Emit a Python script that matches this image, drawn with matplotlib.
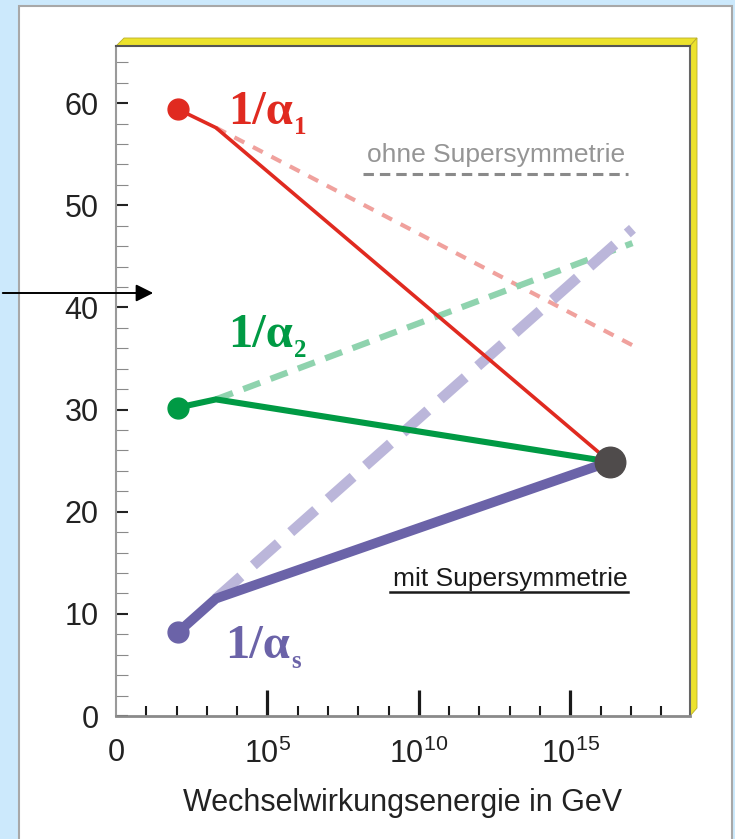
import matplotlib
matplotlib.use("Agg")
import matplotlib.pyplot as plt
from matplotlib.patches import Rectangle, Polygon, FancyArrowPatch
from matplotlib.ticker import MultipleLocator

# --- data: inverse couplings vs log10(energy / GeV) ---
energy_susy = [2.05, 3.3, 16.3]
inv_alpha1_susy = [59.4, 57.6, 24.9]
inv_alpha2_susy = [30.2, 31.0, 24.9]
inv_alphas_susy = [8.2, 11.5, 24.9]

energy_sm = [3.3, 17.05]
inv_alpha1_sm = [57.6, 36.3]
inv_alpha2_sm = [31.0, 46.3]
inv_alphas_sm = [11.5, 47.7]

x_ticks = [0, 5, 10, 15]
x_tick_labels = ["0", r"$10^{5}$", r"$10^{10}$", r"$10^{15}$"]
y_ticks = [0, 10, 20, 30, 40, 50, 60]

plt.rcParams["font.family"] = ["Liberation Sans", "DejaVu Sans"]
plt.rcParams["mathtext.fontset"] = "custom"
plt.rcParams["mathtext.rm"] = "Liberation Sans"
plt.rcParams["mathtext.it"] = "Liberation Sans"
plt.rcParams["lines.scale_dashes"] = False

W, H = 735, 839


def fx(px):
    return px / W


def fy(py):
    return (H - py) / H


fig = plt.figure(figsize=(7.35, 8.39), dpi=100)
fig.patch.set_facecolor("#cce9fc")

# white panel
panel = Rectangle((fx(19), -0.02), fx(732) - fx(19), fy(6) + 0.02,
                  transform=fig.transFigure, facecolor="white",
                  edgecolor="#a8a8a8", linewidth=1.5, zorder=-2)
fig.add_artist(panel)

# yellow 3d frame (top and right)
yellow = "#ece22c"
top_band = Polygon([(fx(116), fy(46)), (fx(124), fy(38)), (fx(697), fy(38)), (fx(690), fy(46))],
                   closed=True, transform=fig.transFigure, facecolor=yellow,
                   edgecolor="#b8ad2a", linewidth=0.6, zorder=-1)
right_band = Polygon([(fx(690), fy(46)), (fx(697), fy(38)), (fx(697), fy(708)), (fx(690), fy(716))],
                     closed=True, transform=fig.transFigure, facecolor=yellow,
                     edgecolor="#b8ad2a", linewidth=0.6, zorder=-1)
fig.add_artist(top_band)
fig.add_artist(right_band)

ax = fig.add_axes([fx(116), fy(716), fx(690) - fx(116), fy(46) - fy(716)])
ax.set_facecolor("white")
ax.set_xlim(0, 18.95)
ax.set_ylim(0, 65.6)

# without SUSY (dashed, light)
ax.plot(energy_sm, inv_alpha1_sm, color="#f0a19d", lw=3.0, dashes=(8, 7), zorder=2)
ax.plot(energy_sm, inv_alpha2_sm, color="#8fd3ae", lw=4.5, dashes=(13, 8), zorder=2)
ax.plot(energy_sm, inv_alphas_sm, color="#bbb6da", lw=7.5, dashes=(24, 12), zorder=2)

# with SUSY (solid)
red, green, purple = "#e02a20", "#009a44", "#6b63a8"
ax.plot(energy_susy, inv_alpha1_susy, color=red, lw=2.6, zorder=3)
ax.plot(energy_susy, inv_alpha2_susy, color=green, lw=4.4, zorder=3)
ax.plot(energy_susy, inv_alphas_susy, color=purple, lw=7.0, zorder=3)

# start points and unification point
ax.plot(energy_susy[0], inv_alpha1_susy[0], "o", color=red, ms=15, zorder=4)
ax.plot(energy_susy[0], inv_alpha2_susy[0], "o", color=green, ms=15, zorder=4)
ax.plot(energy_susy[0], inv_alphas_susy[0], "o", color=purple, ms=15, zorder=4)
ax.plot(energy_susy[-1], inv_alpha1_susy[-1], "o", color="#4f4b4b", ms=22, zorder=5)

# curve labels 1/alpha_i
serif = ["Liberation Serif", "DejaVu Serif"]
labels = [(3.7, 58.0, "1", red), (3.7, 36.1, "2", green), (3.6, 5.7, "s", purple)]
for lx, ly, sub, col in labels:
    t = ax.text(lx, ly, "1/α", color=col, fontsize=35, fontweight="bold",
                family=serif, va="baseline", ha="left", zorder=6)
    ax.annotate(sub, xy=(1, 0), xycoords=t, xytext=(1, 0), textcoords="offset points",
                color=col, fontsize=18, fontweight="bold", family=serif,
                va="baseline", ha="left", zorder=6)

# legend-like notes
ax.text(8.29, 54.2, "ohne Supersymmetrie", color="#959595", fontsize=19,
        va="baseline", ha="left")
ax.plot([8.16, 16.9], [53.1, 53.1], color="#8a8a8a", lw=2.2, dashes=(7.5, 4.3))
ax.text(9.15, 12.7, "mit Supersymmetrie", color="#1a1a1a", fontsize=19,
        va="baseline", ha="left")
ax.plot([9.05, 16.9], [12.1, 12.1], color="#1a1a1a", lw=1.8)

# axes styling
ax.spines["left"].set_color("#9a9a9a")
ax.spines["left"].set_linewidth(1.5)
ax.spines["bottom"].set_color("#8a8a8a")
ax.spines["bottom"].set_linewidth(2)
ax.spines["top"].set_color("#555555")
ax.spines["top"].set_linewidth(1.5)
ax.spines["right"].set_color("#666666")
ax.spines["right"].set_linewidth(1.5)

ax.set_yticks(y_ticks)
ax.yaxis.set_minor_locator(MultipleLocator(2))
ax.tick_params(axis="y", which="major", direction="in", length=8.6, width=1.5,
               color="#222222", labelsize=22, labelcolor="#222222", pad=12.5)
ax.tick_params(axis="y", which="minor", direction="in", length=8.6, width=0.8,
               color="#8a8a8a")

ax.set_xticks(x_ticks)
ax.set_xticklabels(x_tick_labels)
ax.set_xticks([1, 2, 3, 4, 6, 7, 8, 9, 11, 12, 13, 14, 16, 17, 18], minor=True)
ax.tick_params(axis="x", which="major", direction="in", length=19, width=2.3,
               color="#1a1a1a", labelsize=22, labelcolor="#222222", pad=16)
ax.tick_params(axis="x", which="minor", direction="in", length=7.5, width=1.5,
               color="#1a1a1a")
ax.xaxis.get_major_ticks()[0].tick1line.set_visible(False)

ax.set_xlabel("Wechselwirkungsenergie in GeV", fontsize=22, color="#222222", labelpad=13)

# arrow coming in from the left
fig.add_artist(FancyArrowPatch(
    (fx(0), fy(293)), (fx(156), fy(293)), transform=fig.transFigure,
    arrowstyle="-|>", mutation_scale=26, color="black", lw=1.4, zorder=10))

fig.savefig("out.png", dpi=100, facecolor=fig.get_facecolor())
